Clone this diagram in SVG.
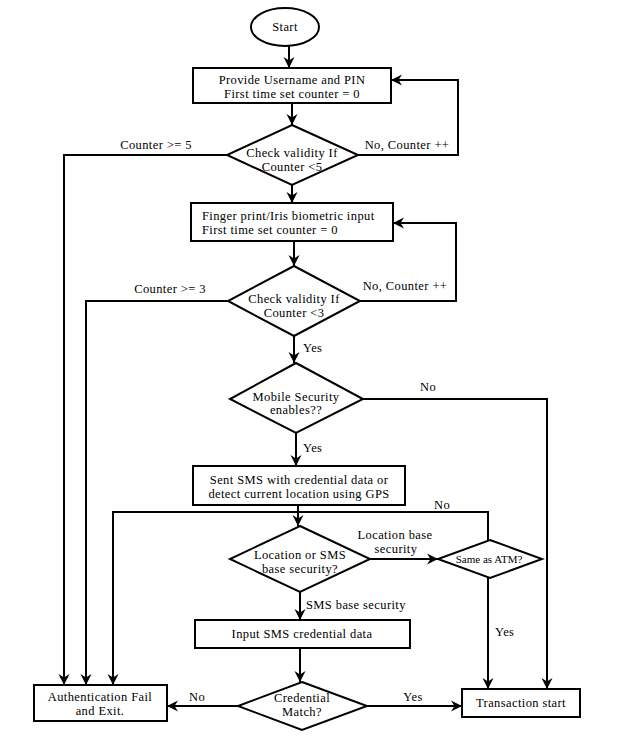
<svg xmlns="http://www.w3.org/2000/svg" width="624" height="740" viewBox="0 0 624 740" font-family="Liberation Serif, Times New Roman, serif">
<defs>
<marker id="ah" markerUnits="userSpaceOnUse" markerWidth="12" markerHeight="12" viewBox="0 0 12 12" refX="11" refY="6" orient="auto">
<path d="M0,0.5 L11,6 L0,11.5 L3.5,6 z" fill="#000"/>
</marker>
<style>
.n{fill:#fff;stroke:#000;stroke-width:2}
.c{fill:none;stroke:#000;stroke-width:2}
.a{marker-end:url(#ah)}
text{font-size:12.5px;letter-spacing:0.4px;fill:#000}
.m{text-anchor:middle}
.s{font-size:11px;letter-spacing:0}
</style>
</defs>
<rect width="624" height="740" fill="#fff"/>
<g id="connectors">
<path class="c a" d="M289,46 V68"/>
<path class="c a" d="M292,103 V125"/>
<path class="c a" d="M227,155 H64 V685"/>
<path class="c a" d="M358,155 H458 V80 H391"/>
<path class="c a" d="M292,185 V203"/>
<path class="c a" d="M294,241 V266"/>
<path class="c a" d="M228,301 H86 V685"/>
<path class="c a" d="M360,301 H456 V223 H393"/>
<path class="c a" d="M294,336 V363"/>
<path class="c a" d="M363,399 H547 V689"/>
<path class="c a" d="M296,433 V466"/>
<path class="c a" d="M298,505 V526"/>
<path class="c a" d="M488,540 V512 H113 V685"/>
<path class="c a" d="M370,559 H438"/>
<path class="c a" d="M488,578 V689"/>
<path class="c a" d="M300,592 V620"/>
<path class="c a" d="M300,648 V682"/>
<path class="c a" d="M238,706 H167"/>
<path class="c a" d="M367,706 H462"/>
<text x="156" y="149" class="m">Counter &gt;= 5</text>
<text x="407" y="149" class="m">No, Counter ++</text>
<text x="170" y="293" class="m">Counter &gt;= 3</text>
<text x="405" y="290" class="m">No, Counter ++</text>
<text x="303" y="352">Yes</text>
<text x="428" y="391" class="m">No</text>
<text x="303" y="452">Yes</text>
<text x="442" y="509" class="m">No</text>
<text x="395" y="539" class="m">Location base</text>
<text x="396" y="553" class="m">security</text>
<text x="495" y="636">Yes</text>
<text x="306" y="609">SMS base security</text>
<text x="197" y="701" class="m">No</text>
<text x="413" y="701" class="m">Yes</text>
</g>
<g id="start">
<ellipse class="n" cx="285" cy="27" rx="34" ry="19"/>
<text x="285" y="31" class="m">Start</text>
</g>
<g id="provide">
<rect class="n" x="193" y="68" width="198" height="35"/>
<text x="292" y="84" class="m">Provide Username and PIN</text>
<text x="292" y="98" class="m">First time set counter = 0</text>
</g>
<g id="check5">
<polygon class="n" points="292,125 358,155 292,185 227,155"/>
<text x="292" y="157" class="m">Check validity If</text>
<text x="292" y="171" class="m">Counter &lt;5</text>
</g>
<g id="biometric">
<rect class="n" x="191" y="203" width="202" height="38"/>
<text x="202" y="220">Finger print/Iris biometric  input</text>
<text x="202" y="234">First time set  counter = 0</text>
</g>
<g id="check3">
<polygon class="n" points="294,266 360,301 294,336 228,301"/>
<text x="294" y="303" class="m">Check  validity If</text>
<text x="294" y="317" class="m">Counter &lt;3</text>
</g>
<g id="mobile">
<polygon class="n" points="296,363 363,399 296,433 230,399"/>
<text x="296" y="401" class="m">Mobile Security</text>
<text x="296" y="414" class="m">enables??</text>
</g>
<g id="sendsms">
<rect class="n" x="193" y="466" width="212" height="39"/>
<text x="299" y="484" class="m">Sent SMS with credential  data or</text>
<text x="299" y="498" class="m">detect current  location using GPS</text>
</g>
<g id="locorsms">
<polygon class="n" points="300,526 370,559 300,592 230,559"/>
<text x="300" y="559" class="m">Location or SMS</text>
<text x="300" y="573" class="m">base security?</text>
</g>
<g id="sameatm">
<polygon class="n" points="490,540 542,559 490,578 438,559"/>
<text x="489" y="563" class="m s">Same as ATM?</text>
</g>
<g id="inputsms">
<rect class="n" x="195" y="620" width="215" height="28"/>
<text x="302" y="638" class="m">Input SMS credential  data</text>
</g>
<g id="credmatch">
<polygon class="n" points="302,682 367,706 302,730 238,706"/>
<text x="302" y="702" class="m">Credential</text>
<text x="302" y="716" class="m">Match?</text>
</g>
<g id="authfail">
<rect class="n" x="34" y="685" width="133" height="36"/>
<text x="100" y="701" class="m">Authentication  Fail</text>
<text x="100" y="715" class="m">and Exit.</text>
</g>
<g id="transaction">
<rect class="n" x="462" y="689" width="118" height="28"/>
<text x="521" y="707" class="m">Transaction  start</text>
</g>
</svg>
